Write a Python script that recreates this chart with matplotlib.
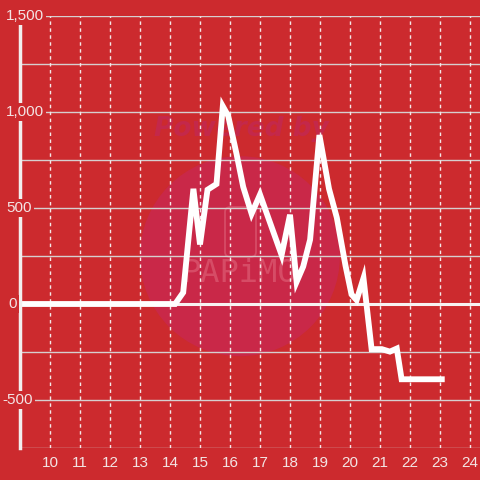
import matplotlib
matplotlib.use("Agg")
import matplotlib.pyplot as plt
import matplotlib.patches as mpatches

# hours vs value
hours = [9, 14.17, 14.44, 14.78, 15.0, 15.25, 15.55, 15.76, 15.94, 16.22, 16.44,
         16.72, 17.0, 17.72, 18.0, 18.22, 18.44, 18.67, 18.98, 19.3, 19.56,
         19.85, 20.05, 20.22, 20.45, 20.72, 21.06, 21.33, 21.56, 21.72, 23.06]
values = [0, 0, 60, 600, 310, 595, 625, 1030, 980, 780, 610,
          470, 570, 255, 465, 115, 195, 335, 880, 600, 450,
          200, 50, 20, 135, -235, -235, -248, -232, -392, -392]

x_ticks = list(range(10, 25))
y_labels = [1500, 1000, 500, 0, -500]
y_label_left = [6, 6, 6, 8, 2]   # px where each label starts
y_grid = [1500, 1250, 1000, 750, 500, 250, -250, -500, -750]

BG = "#cc2a2e"
TXT = "#f3e4e4"

plt.rcParams['font.family'] = ['Liberation Sans', 'DejaVu Sans']

fig = plt.figure(figsize=(4.8, 4.8), dpi=100, facecolor=BG)
ax = fig.add_axes([20 / 480, 32 / 480, 460 / 480, 432 / 480], facecolor=BG)
x0, x1 = 9, 9 + 460 / 30
ax.set_xlim(x0, x1)
ax.set_ylim(-750, 1500)

# watermark
ax.add_patch(mpatches.Ellipse((0.478, 0.444), 200 / 460, 200 / 432, transform=ax.transAxes,
                              facecolor="#c92848", edgecolor="none", zorder=0))
ax.text(0.482, 0.738, "Powered by", transform=ax.transAxes, ha="center", va="center",
        fontsize=19, fontweight="bold", style="italic", color="#c4284a", zorder=0.5,
        family="DejaVu Sans")
ax.add_patch(mpatches.FancyBboxPatch(((225 - 20) / 460, (448 - 257) / 432), 31 / 460, 50 / 432,
                                     boxstyle="round,pad=0,rounding_size=0.012",
                                     transform=ax.transAxes, facecolor="none",
                                     edgecolor="#d64c66", lw=1.3, zorder=0.5))
ax.text(0.478, 0.405, "PAPiMO", transform=ax.transAxes, ha="center", va="center",
        fontsize=23, color="#d64c66", zorder=0.5, family="DejaVu Sans Mono")

# grid
for y in y_grid:
    ax.axhline(y, color="#d6cfcf", lw=1, zorder=1)
for x in x_ticks:
    ax.axvline(x, color="#f4e8e8", lw=1, ls=(0, (2.5, 2.5)), zorder=1)
ax.plot([x0 - 3 / 30, x1], [0, 0], color="#f7f2f2", lw=2.2, zorder=2, clip_on=False)

ax.plot(hours, values, color="white", lw=4.2, solid_joinstyle="miter", zorder=3)

for s in ["top", "right", "bottom"]:
    ax.spines[s].set_visible(False)
ax.spines["left"].set_color("#f2eeee")
ax.spines["left"].set_linewidth(2.5)
ax.spines["left"].set_zorder(4)

ax.set_yticks([])
ax.set_xticks(x_ticks)
ax.set_xticklabels([str(x) for x in x_ticks])
ax.tick_params(axis="x", length=0, pad=6, labelsize=11, labelcolor=TXT)

for y, px in zip(y_labels, y_label_left):
    ax.text(x0 + (px - 20) / 30, y, f"{y:,}", ha="left", va="center", fontsize=11,
            color=TXT, zorder=5, clip_on=False,
            bbox=dict(facecolor=BG, edgecolor="none", pad=1.5))

fig.savefig("out.png", dpi=100, facecolor=BG)
